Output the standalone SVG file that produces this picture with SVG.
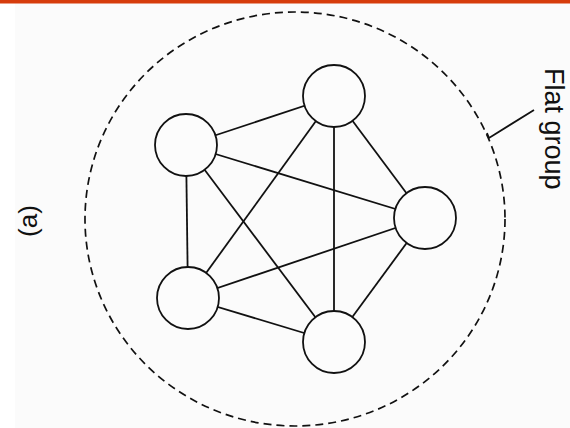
<svg xmlns="http://www.w3.org/2000/svg" width="570" height="428" viewBox="0 0 570 428">
<style>
.edge{stroke:#111;stroke-width:1.8;fill:none}
.node{fill:#fcfcfc;stroke:#111;stroke-width:1.8}
.lbl{font-family:"Liberation Sans",Arial,sans-serif;fill:#111}
</style>
<rect x="0" y="0" width="570" height="428" fill="#ffffff"/>
<rect x="15" y="0" width="555" height="428" fill="#fbfbfb"/>
<rect x="0" y="0" width="570" height="3.5" fill="#d63c0c"/>
<g id="group-boundary">
<ellipse cx="295" cy="219" rx="210" ry="207" fill="none" stroke="#111" stroke-width="1.7" stroke-dasharray="8 5"/>
</g>
<g id="connectors">
<line class="edge" x1="334" y1="96" x2="186" y2="145"/>
<line class="edge" x1="334" y1="96" x2="425" y2="218"/>
<line class="edge" x1="334" y1="96" x2="188" y2="298"/>
<line class="edge" x1="334" y1="96" x2="334" y2="342"/>
<line class="edge" x1="186" y1="145" x2="425" y2="218"/>
<line class="edge" x1="186" y1="145" x2="188" y2="298"/>
<line class="edge" x1="186" y1="145" x2="334" y2="342"/>
<line class="edge" x1="425" y1="218" x2="188" y2="298"/>
<line class="edge" x1="425" y1="218" x2="334" y2="342"/>
<line class="edge" x1="188" y1="298" x2="334" y2="342"/>
<polyline class="edge" points="534,110 489,138 487,133"/>
</g>
<g id="n1"><circle class="node" cx="334" cy="96" r="31"/></g>
<g id="n2"><circle class="node" cx="186" cy="145" r="31"/></g>
<g id="n3"><circle class="node" cx="425" cy="218" r="31"/></g>
<g id="n4"><circle class="node" cx="188" cy="298" r="31"/></g>
<g id="n5"><circle class="node" cx="334" cy="342" r="31"/></g>
<g id="label-flat">
<text class="lbl" font-size="27" transform="translate(545,68) rotate(90)">Flat group</text>
</g>
<g id="label-a">
<text class="lbl" font-size="26" text-anchor="middle" transform="translate(37,221) rotate(-90)">(a)</text>
</g>
</svg>
